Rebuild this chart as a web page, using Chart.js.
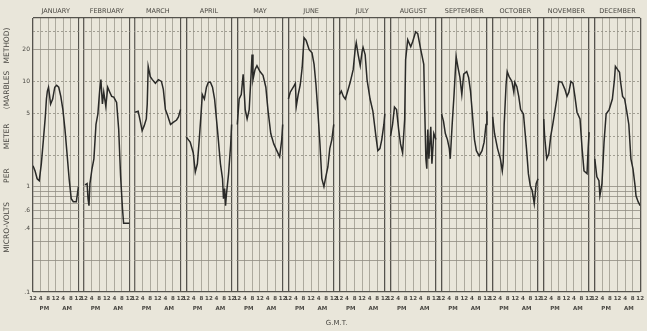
<!DOCTYPE html>
<html>
<head>
<meta charset="utf-8">
<script src="https://cdn.jsdelivr.net/npm/chart.js@4.4.0/dist/chart.umd.min.js"></script>
<style>
  html, body { margin: 0; padding: 0; background: #e9e6da; }
  canvas { display: block; background: #e9e6da; }
</style>
</head>
<body>
<canvas id="chart" width="647" height="331"></canvas>
<script>
// Monthly diurnal field-intensity curves, one 24-hour panel per month (noon to noon, G.M.T.)
const MONTHS = ['JANUARY','FEBRUARY','MARCH','APRIL','MAY','JUNE','JULY','AUGUST','SEPTEMBER','OCTOBER','NOVEMBER','DECEMBER'];
const HOUR_LABELS = ['12','4','8','12','4','8','12'];
const HALF_DAY_LABELS = ['PM','AM'];
const PANEL_HOURS = [0, 4, 8, 12, 16, 20, 24];
const Y_GRID = [40, 30, 20, 10, 5, 3, 2, 1, 0.9, 0.8, 0.7, 0.6, 0.5, 0.4, 0.3, 0.2, 0.1];
const Y_LABELS = { '20': '20', '10': '10', '5': '5', '1': '1', '0.6': '.6', '0.4': '.4', '0.1': '.1' };

// hours after noon, microvolts per meter
const janHours  = [0,1.1,2.2,3.3,4.4,5.5,6.5,7.1,7.6,8.2,8.7,9.3,10.4,11.5,12.5,13.6,14.7,15.8,16.9,18,19.1,20.2,21.3,22.9,23.5,24];
const janValues = [1.58,1.41,1.19,1.14,1.65,2.8,4.6,6.8,8.1,8.8,7.5,6.1,6.8,8.8,9.2,8.8,7.2,5.4,3.5,2.05,1.19,0.77,0.72,0.72,0.86,1.0];

const febHours  = [0.5,1.6,2.1,2.6,3.1,4.2,5.2,6.3,7.3,8.3,8.9,9.7,10.4,11.5,12.5,13.6,14.6,15.7,17.2,18.3,19.3,20.3,20.9,24];
const febValues = [1.04,1.07,0.77,0.66,1.07,1.48,1.84,3.9,4.9,8.4,10.4,6.1,7.9,5.8,8.8,7.9,7.2,7.1,6.3,3.5,1.27,0.62,0.45,0.45];

const marHours  = [0,1.6,2.7,3.7,4.8,5.9,6.4,6.9,8,9.1,10.7,12.3,13.9,14.9,16,17.1,18.7,20.3,21.9,22.9,24];
const marValues = [5.1,5.2,4.2,3.4,3.8,4.4,6.1,13.9,11.1,10.4,9.6,10.4,10,8.4,5.4,4.8,3.9,4.1,4.3,4.6,5.4];

const aprHours  = [0,1.1,2.1,3.7,4.8,5.9,6.9,8,8.5,9.6,10.7,11.7,12.8,13.9,15,16.5,18.1,19.2,19.7,20.3,20.8,21.3,22.4,23.5,24];
const aprValues = [2.96,2.8,2.65,2.1,1.38,1.65,2.8,5.4,7.5,6.8,8.8,9.8,9.8,8.8,6.8,3.5,1.65,1.19,0.77,0.96,0.66,0.86,1.33,2.5,3.9];

const mayHours  = [0,1,2.1,3.1,4.2,5.2,6.3,7.3,7.8,8.3,9.4,10.4,12,13.6,15.1,16.2,17.7,19.3,20.9,22.4,23.5,24];
const mayValues = [3.9,6.8,7.5,11.7,5.4,4.4,5.4,11.7,18,10.4,13,14.1,12.4,11.4,8.8,5.4,3.2,2.55,2.2,1.92,2.8,3.9];

const junHours  = [0,1,2.6,3.7,4.2,5.2,6.3,7.3,8.3,9.4,11,12.5,13.6,14.6,15.7,16.7,17.7,18.8,19.8,20.9,21.9,23,24];
const junValues = [6.8,7.9,8.8,9.6,5.8,7.5,9.3,13.5,26,24.5,20,18.7,14.5,9.3,4.9,2.55,1.19,1.0,1.24,1.54,2.3,2.8,3.9];

const julHours  = [0,1,2.1,3.1,4.2,5.7,7.3,8.3,8.9,9.9,11,12,12.5,13.6,14.6,16.2,17.7,19.3,20.3,21.4,22.4,23.5,24];
const julValues = [7.5,8.1,7.2,6.8,7.9,9.8,13,20,23.3,18,14.1,19.3,21,18,10.4,6.8,5.2,3.0,2.2,2.3,2.8,3.9,4.9];

const augHours  = [0,1.1,2.1,3.2,4.3,5.3,6.4,7.5,8,9.1,10.7,11.7,13.3,14.4,16,17.6,18.1,18.7,19.2,19.7,20.3,21.3,21.9,22.9,24];
const augValues = [3.0,3.9,5.7,5.4,3.5,2.55,2.1,4.4,16.1,24.9,21.3,23.8,29.6,28.4,20,14.5,5.4,1.84,1.48,3.5,1.84,3.7,1.65,3.2,2.8];

const sepHours  = [0,1,2,3.1,4.1,4.6,5.6,6.6,7.7,8.7,9.7,10.7,11.7,13.3,14.3,15.3,16.3,17.4,18.4,19.9,21.4,22.5,23.5,24];
const sepValues = [4.9,4.2,3.2,2.8,2.3,1.84,3.9,7.5,17.2,13.5,10.9,7.5,11.7,12.4,10.9,8.1,4.9,2.8,2.2,1.96,2.2,2.65,3.9,5.2];

const octHours  = [0,1,2.6,4.1,5.1,5.6,6.1,7.1,7.7,8.7,10.2,11.2,11.7,12.8,13.8,14.8,16.3,17.9,18.9,19.9,20.9,22,23,24];
const octValues = [4.6,3.2,2.3,1.84,1.41,1.72,3.9,9.3,12.4,11.1,10,7.9,9.8,8.9,7.2,5.4,4.9,2.3,1.33,1.02,0.92,0.69,1.07,1.19];

const novHours  = [0,0.5,1.6,2.7,3.7,4.8,5.9,6.9,8,9.6,11.2,12.3,13.3,14.4,15.5,16.5,17.6,19.2,20.3,21.3,22.9,23.5,24];
const novValues = [4.4,3.0,1.84,2.05,3.0,3.9,5.2,6.8,10,9.8,8.4,7.2,7.9,10,9.6,7.2,5.1,4.4,2.3,1.41,1.33,2.3,3.3];

const decHours  = [0,1.1,2.2,2.7,3.8,4.9,6,7.6,9.3,10.4,10.9,12,13.1,13.6,14.7,15.8,16.9,18,19.1,20.2,21.3,21.8,22.9,24];
const decValues = [1.84,1.24,1.14,0.82,1.07,2.65,4.9,5.4,6.8,10.4,13.9,13,12.2,10,7.2,6.8,5.2,3.9,1.84,1.48,1.02,0.82,0.72,0.66];

const SERIES = [
  [janHours, janValues], [febHours, febValues], [marHours, marValues], [aprHours, aprValues],
  [mayHours, mayValues], [junHours, junValues], [julHours, julValues], [augHours, augValues],
  [sepHours, sepValues], [octHours, octValues], [novHours, novValues], [decHours, decValues]
];

// each panel is 24 h wide, panels separated by a 3 h blank strip
const PERIOD = 27;
const SPAN = 11 * PERIOD + 24;
const BG = '#e9e6da';
const INK = '#2a2a28';
const TEXT = '#4a4843';
const FONT = "'DejaVu Sans', sans-serif";

const hourTicks = [];
MONTHS.forEach((_, m) => PANEL_HOURS.forEach(h => hourTicks.push(m * PERIOD + h)));
const halfDayTicks = [];
MONTHS.forEach((_, m) => { halfDayTicks.push(m * PERIOD + 6, m * PERIOD + 18); });
const monthTicks = MONTHS.map((_, m) => m * PERIOD + 12);

const datasets = SERIES.map(([hours, values], m) => ({
  label: MONTHS[m],
  data: hours.map((h, i) => ({ x: m * PERIOD + h, y: values[i] })),
  borderColor: INK,
  borderWidth: 1.5,
  pointRadius: 0,
  tension: 0,
  fill: false
}));

function isPanelEdge(v) {
  const r = ((v % PERIOD) + PERIOD) % PERIOD;
  return Math.abs(r) < 1e-6 || Math.abs(r - 24) < 1e-6;
}

// blank strips between the monthly panels
const panelGaps = {
  id: 'panelGaps',
  beforeDatasetsDraw(chart) {
    const { ctx, chartArea: a, scales: { x } } = chart;
    ctx.save();
    ctx.fillStyle = BG;
    for (let m = 0; m < MONTHS.length - 1; m++) {
      const x0 = x.getPixelForValue(m * PERIOD + 24) + 1;
      const x1 = x.getPixelForValue((m + 1) * PERIOD) - 1;
      ctx.fillRect(x0, a.top + 1, x1 - x0, a.bottom - a.top - 2);
    }
    ctx.restore();
  }
};

new Chart(document.getElementById('chart'), {
  type: 'line',
  data: { datasets },
  plugins: [panelGaps],
  options: {
    responsive: false,
    animation: false,
    devicePixelRatio: 1,
    layout: { padding: { left: 0, right: 5, top: 0, bottom: 0 } },
    plugins: { legend: { display: false }, tooltip: { enabled: false } },
    scales: {
      x: {
        type: 'linear', position: 'bottom', min: 0, max: SPAN,
        afterBuildTicks: s => { s.ticks = hourTicks.map(v => ({ value: v })); },
        afterFit: s => { s.height = 10; },
        ticks: {
          autoSkip: false, maxRotation: 0, minRotation: 0, padding: 3,
          font: { family: FONT, size: 5.5, weight: 'bold' }, color: TEXT,
          callback: (v, i) => HOUR_LABELS[i % HOUR_LABELS.length]
        },
        grid: {
          drawTicks: false,
          color: c => (c.tick && isPanelEdge(c.tick.value)) ? '#55534d' : '#9c998e',
          lineWidth: c => (c.tick && isPanelEdge(c.tick.value)) ? 1.3 : 0.8
        },
        border: { display: false }
      },
      halfDay: {
        type: 'linear', position: 'bottom', min: 0, max: SPAN,
        afterBuildTicks: s => { s.ticks = halfDayTicks.map(v => ({ value: v })); },
        afterFit: s => { s.height = 29; },
        ticks: {
          autoSkip: false, maxRotation: 0, minRotation: 0, padding: 3,
          font: { family: FONT, size: 5.5, weight: 'bold' }, color: TEXT,
          callback: (v, i) => HALF_DAY_LABELS[i % 2]
        },
        grid: { display: false, drawTicks: false },
        border: { display: false },
        title: {
          display: true, text: 'G.M.T.', color: TEXT,
          font: { family: FONT, size: 7 }, padding: { top: 0, bottom: 4 }
        }
      },
      months: {
        type: 'linear', position: 'top', min: 0, max: SPAN,
        afterBuildTicks: s => { s.ticks = monthTicks.map(v => ({ value: v })); },
        afterFit: s => { s.height = 18; },
        ticks: {
          autoSkip: false, maxRotation: 0, minRotation: 0, padding: 3,
          font: { family: FONT, size: 6.5 }, color: TEXT,
          callback: (v, i) => MONTHS[i]
        },
        grid: { display: false, drawTicks: false },
        border: { display: false }
      },
      y: {
        type: 'logarithmic', min: 0.1, max: 40,
        afterBuildTicks: s => { s.ticks = Y_GRID.map(v => ({ value: v })); },
        afterFit: s => { s.width = 33; },
        ticks: {
          autoSkip: false, padding: 3,
          font: { family: FONT, size: 6 }, color: TEXT,
          callback: v => Y_LABELS[String(v)] || ''
        },
        grid: {
          drawTicks: false,
          color: c => {
            const v = c.tick ? c.tick.value : 0;
            if (v === 40 || v === 0.1) return '#55534d';
            return '#8f8c81';
          },
          lineWidth: c => {
            const v = c.tick ? c.tick.value : 0;
            return (v === 40 || v === 0.1) ? 1.3 : 0.8;
          }
        },
        border: {
          display: false,
          dash: c => {
            const v = c.tick ? c.tick.value : 0;
            return (v > 1 && v !== 20 && v !== 40) ? [2, 2] : [];
          }
        },
        title: {
          display: true, align: 'end',
          text: 'MICRO-VOLTS        PER        METER      (MARBLES   METHOD)    ',
          color: TEXT, font: { family: FONT, size: 7.5 }, padding: { top: 3, bottom: 0 }
        }
      }
    }
  }
});
</script>
</body>
</html>
